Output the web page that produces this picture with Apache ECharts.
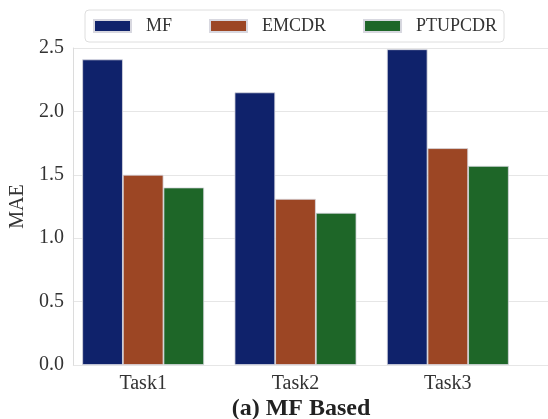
<!DOCTYPE html>
<html>
<head>
<meta charset="utf-8">
<script src="https://cdn.jsdelivr.net/npm/echarts@6/dist/echarts.min.js"></script>
<style>
html,body{margin:0;padding:0;background:#fff}
#chart{width:548px;height:419px}
</style>
</head>
<body>
<div id="chart"></div>
<script>
// data
var tasks = ['Task1', 'Task2', 'Task3']
var mf = [2.41, 2.15, 2.49]
var emcdr = [1.50, 1.31, 1.71]
var ptupcdr = [1.40, 1.20, 1.57]

var serif = '"Liberation Serif", "DejaVu Serif", serif'
var myChart = echarts.init(document.getElementById('chart'))

function bar(name, data, color){
	return {
		name: name,
		type: 'bar',
		xAxisIndex: 1,
		yAxisIndex: 1,
		data: data,
		barGap: '0%',
		barCategoryGap: '20%',
		itemStyle: {
			color: color,
			borderColor: '#d8d8e0',
			borderWidth: 0.8
		}
	}
}

var option = {
	animation: false,
	textStyle: {fontFamily: serif},
	title: {
		text: '(a) MF Based',
		left: 296,
		top: 392,
		textAlign: 'center',
		textStyle: {fontFamily: serif, fontSize: 24, fontWeight: 'bold', color: '#222'}
	},
	legend: {
		data: ['MF', 'EMCDR', 'PTUPCDR'],
		left: 85,
		top: 10,
		padding: [7, 7, 7, 8],
		itemWidth: 37,
		itemHeight: 12,
		itemGap: 37,
		icon: 'rect',
		borderColor: '#dedede',
		borderWidth: 1,
		borderRadius: 4,
		textStyle: {fontFamily: serif, fontSize: 18, color: '#333', padding: [0, 0, 0, 10]}
	},
	grid: [
		{left: 67, right: -4, top: 48, bottom: 54},
		{left: 67, right: 24, top: 48, bottom: 54}
	],
	xAxis: [
		{gridIndex: 0, type: 'value', show: false, min: 0, max: 1},
		{
			gridIndex: 1,
			type: 'category',
			data: tasks,
			axisLine: {show: false},
			axisTick: {show: false},
			axisLabel: {fontFamily: serif, fontSize: 20, color: '#333', margin: 9}
		}
	],
	yAxis: [
		{
			gridIndex: 0,
			type: 'value',
			min: 0,
			max: 2.5,
			interval: 0.5,
			name: 'MAE',
			nameLocation: 'middle',
			nameGap: 38,
			nameTextStyle: {fontFamily: serif, fontSize: 20, color: '#333'},
			axisLine: {show: true, lineStyle: {color: '#dcdcdc'}},
			axisTick: {show: false},
			axisLabel: {
				fontFamily: serif, fontSize: 20, color: '#333', margin: 9,
				formatter: function(v){ return v.toFixed(1) }
			},
			splitLine: {lineStyle: {color: '#e6e6e6', width: 1}}
		},
		{gridIndex: 1, type: 'value', min: 0, max: 2.5, show: false}
	],
	series: [
		bar('MF', mf, '#0f226b'),
		bar('EMCDR', emcdr, '#9c4624'),
		bar('PTUPCDR', ptupcdr, '#1e6628')
	]
}

myChart.setOption(option)
</script>
</body>
</html>
